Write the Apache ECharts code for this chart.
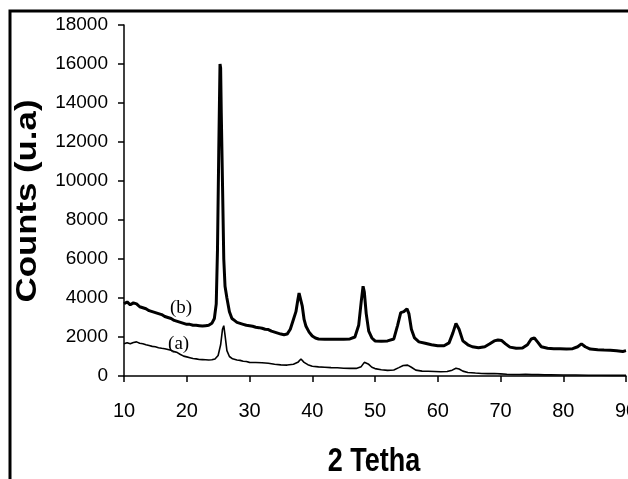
<!DOCTYPE html>
<html><head><meta charset="utf-8">
<script src="https://cdn.jsdelivr.net/npm/echarts@6/dist/echarts.min.js"></script>
<style>html,body{margin:0;padding:0;background:#fff}#c{width:628px;height:479px}</style>
</head><body><div id="c"></div>
<script>
// Sample (b)
const thetaB = [10,10.5,11,11.5,12,12.5,13,13.5,14,14.5,15,15.5,16,16.5,17,17.5,18,18.5,19,19.5,20,20.5,21,21.5,22,22.5,23,23.5,24,24.4,24.7,24.9,25.1,25.3,25.4,25.5,25.7,25.9,26.1,26.4,26.8,27.2,27.6,28,28.5,29,29.5,30,30.5,31,31.5,32,32.5,33,33.5,34,34.5,35,35.5,36,36.5,37,37.4,37.7,37.9,38.1,38.4,38.7,39,39.5,40,40.5,41,42,43,44,45,46,46.8,47.4,47.8,48.1,48.3,48.6,49,49.5,50,51,52,53,53.6,54.1,54.6,55.1,55.4,55.8,56.3,57,58,59,60,61,61.8,62.4,62.9,63.4,64,64.8,65.5,66.5,67.5,68.3,69,69.6,70.2,70.8,71.5,72.5,73.5,74.3,74.9,75.4,75.9,76.5,77.5,78.5,79.5,80.5,81.5,82.3,82.9,83.5,84.3,85.5,86.5,87.5,88.5,89.5,90];
const countsB = [3700,3800,3650,3750,3700,3550,3500,3450,3350,3300,3250,3200,3150,3050,3000,2950,2850,2800,2750,2700,2650,2650,2600,2600,2580,2560,2580,2600,2700,2950,3700,6500,11500,16000,15800,13500,9800,6000,4600,4000,3300,2950,2850,2750,2700,2650,2600,2580,2550,2500,2480,2450,2400,2380,2300,2250,2200,2150,2120,2150,2400,2900,3300,3900,4250,4200,3600,2900,2550,2250,2050,1950,1900,1880,1880,1880,1880,1900,2000,2600,3800,4600,4300,3200,2300,1950,1800,1780,1800,1900,2600,3250,3300,3450,3200,2400,1950,1750,1680,1600,1550,1550,1700,2200,2700,2400,1800,1600,1500,1450,1500,1650,1800,1850,1820,1650,1480,1420,1430,1600,1900,1950,1750,1500,1420,1400,1400,1390,1400,1500,1650,1500,1380,1350,1330,1320,1300,1260,1300];
// Sample (a)
const thetaA = [10,10.5,11,11.5,12,12.5,13,13.5,14,14.5,15,15.5,16,16.5,17,17.5,18,18.5,19,19.5,20,20.5,21,21.5,22,22.5,23,23.5,24,24.5,25,25.4,25.7,25.9,26.1,26.4,26.8,27.3,28,28.5,29,29.5,30,31,32,33,34,35,36,37,37.7,38.2,38.7,39.3,40,41,42,43,44,45,46,47,47.8,48.3,48.6,49,49.5,50,51,52,53,53.8,54.5,55.2,55.8,56.5,57.5,58.5,59.5,60.5,61.5,62.3,62.9,63.4,64,64.8,66,67,68,69,70,71,72,73,74,75,76,77,78,80,82,84,86,88,90];
const countsA = [1650,1700,1650,1720,1750,1680,1650,1600,1560,1520,1500,1450,1420,1400,1360,1320,1250,1200,1100,1020,980,940,900,880,850,840,830,820,830,870,1050,1600,2400,2580,2100,1300,1000,880,820,800,760,740,700,690,680,650,600,570,560,600,700,870,700,580,500,470,450,430,420,400,390,390,480,700,780,600,450,380,320,290,310,430,540,560,450,300,250,240,230,220,230,300,400,360,250,180,150,130,120,130,110,90,80,80,90,70,70,60,60,50,50,40,40,30,30];
const xTicks = [10,20,30,40,50,60,70,80,90];
const yTicks = [0,2000,4000,6000,8000,10000,12000,14000,16000,18000];
const seriesNames = ['(b)','(a)'];
const xTitle = '2 Tetha';
const yTitle = 'Counts (u.a)';

const zip = (xs, ys) => xs.map((x, i) => [x, ys[i]]);
const chart = echarts.init(document.getElementById('c'), null, {renderer: 'canvas'});
const tickFont = 'Liberation Sans, Arial, sans-serif';
const serif = 'Liberation Serif, Times New Roman, serif';
chart.setOption({
  animation: false,
  backgroundColor: '#fff',
  grid: {left: 124, top: 25, width: 502, height: 351, containLabel: false, outerBoundsMode: 'none'},
  xAxis: {
    type: 'value', min: xTicks[0], max: xTicks[xTicks.length-1], interval: 10,
    axisLine: {show: true, onZero: false, lineStyle: {color: '#000', width: 1.5}},
    axisTick: {show: true, inside: false, length: 6, lineStyle: {color: '#000', width: 1.5}},
    axisLabel: {color: '#000', fontSize: 20, fontFamily: tickFont, margin: 25, showMaxLabel: true, showMinLabel: true, hideOverlap: false, formatter: v => String(v)},
    splitLine: {show: false}
  },
  yAxis: {
    type: 'value', min: yTicks[0], max: yTicks[yTicks.length-1], interval: 2000,
    axisLine: {show: true, lineStyle: {color: '#000', width: 1.5}},
    axisTick: {show: true, inside: false, length: 6, lineStyle: {color: '#000', width: 1.5}},
    axisLabel: {color: '#000', fontSize: 19, fontFamily: tickFont, margin: 16, formatter: v => String(v)},
    splitLine: {show: false}
  },
  series: [
    {
      name: seriesNames[0], type: 'line', data: zip(thetaB, countsB), showSymbol: false,
      lineStyle: {color: '#000', width: 3}, z: 3,
      markPoint: {symbol: 'circle', symbolSize: 0, silent: true,
        label: {show: true, position: 'inside', formatter: seriesNames[0], color: '#000', fontSize: 19, fontFamily: serif},
        data: [{coord: [19.1, 3490]}]}
    },
    {
      name: seriesNames[1], type: 'line', data: zip(thetaA, countsA), showSymbol: false,
      lineStyle: {color: '#000', width: 1.6}, z: 3,
      markPoint: {symbol: 'circle', symbolSize: 0, silent: true,
        label: {show: true, position: 'inside', formatter: seriesNames[1], color: '#000', fontSize: 19, fontFamily: serif},
        data: [{coord: [18.7, 1640]}]}
    }
  ],
  graphic: [
    {type: 'polyline', shape: {points: [[10, 479], [10, 11], [628, 11]]}, style: {stroke: '#000', lineWidth: 3, fill: null}, silent: true},
    {type: 'text', x: 374, y: 462, scaleY: 1.25, style: {text: xTitle, font: 'bold 27px Liberation Sans, Arial, sans-serif', fill: '#000', align: 'center', verticalAlign: 'middle'}},
    {type: 'text', x: 28, y: 201, rotation: Math.PI/2, scaleX: 1.2, style: {text: yTitle, font: 'bold 29px Liberation Sans, Arial, sans-serif', fill: '#000', align: 'center', verticalAlign: 'middle'}}
  ]
});
</script></body></html>
